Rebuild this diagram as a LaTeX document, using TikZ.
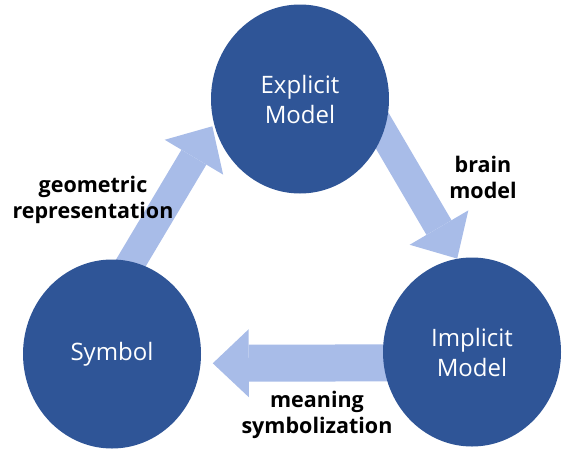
\documentclass[tikz,border=0pt]{standalone}
\usepackage{fontspec}
\setmainfont{Open Sans}
\usetikzlibrary{arrows.meta,shapes.geometric,backgrounds}
\definecolor{modelblue}{HTML}{2F5597}
\definecolor{flowblue}{HTML}{A8BCE8}

\begin{document}
\begin{tikzpicture}[x=1pt,y=-1pt,
		model/.style={ellipse,fill=modelblue,text=white,inner sep=0pt,minimum width=178pt,minimum height=189pt,align=center,font=\fontsize{24}{30}\selectfont},
		flow/.style={draw=flowblue,line width=29pt,-{Triangle[width=68pt 0 0,length=36pt 0 0,line width=0pt]},shorten <=-20pt},
		tag/.style={align=center,font=\fontsize{21.5}{26}\selectfont\bfseries}]
		\useasboundingbox (0,0) rectangle (573,453);
		\node[model] (mExp) at (300,99) {Explicit\\Model};
		\node[model] (mSym) at (112,354) {Symbol};
		\node[model] (mImp) at (472,352) {Implicit\\Model};

		\node[tag] (lGeo) at (93,200) {geometric\\representation};
		\node[tag] (lBrain) at (483,177) {brain\\model};
		\node[tag] (lMean) at (317,415) {meaning\\symbolization};

		\begin{pgfonlayer}{background}
		\path
		(mSym.78) edge[flow,shorten >=3pt] (mExp.196)
		(mExp.-22) edge[flow] (mImp.99)
		(mImp.187) edge[flow,line width=37pt,shorten >=12pt] (mSym.-6.5)
		;
		\end{pgfonlayer}
	\end{tikzpicture}
\end{document}
